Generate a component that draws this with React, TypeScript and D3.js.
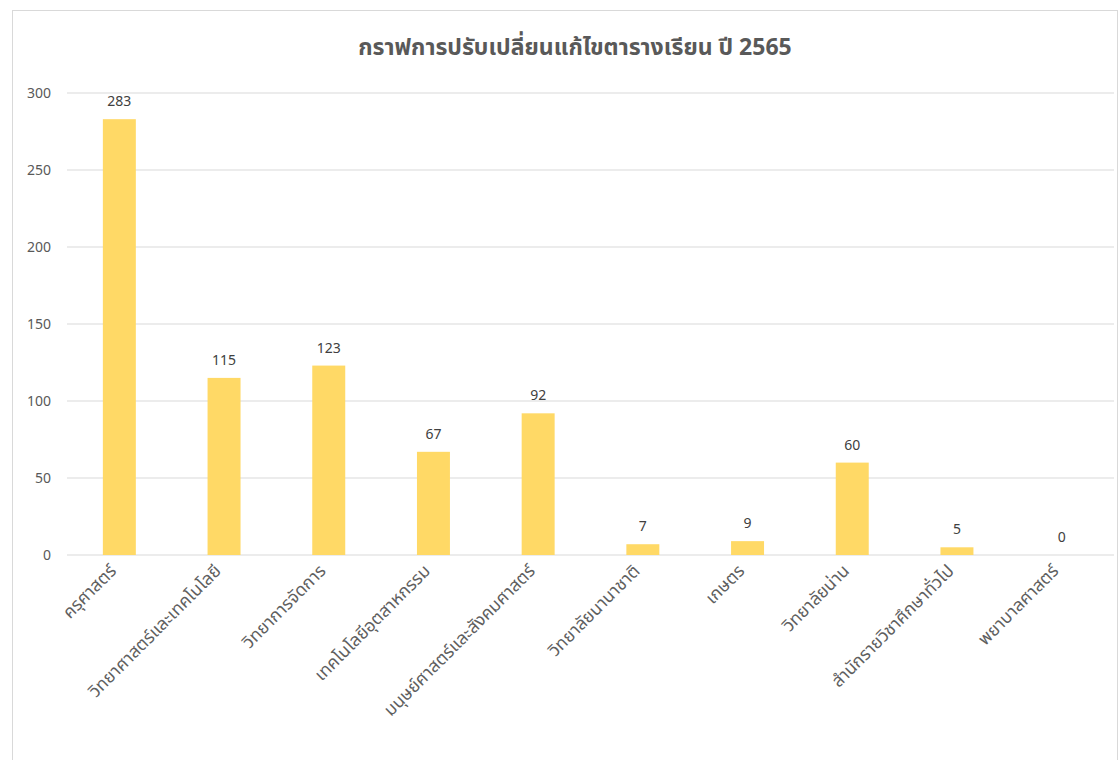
import React from "react";
import * as d3 from "d3";

const categories = [
  "ครุศาสตร์",
  "วิทยาศาสตร์และเทคโนโลยี",
  "วิทยาการจัดการ",
  "เทคโนโลยีอุตสาหกรรม",
  "มนุษย์ศาสตร์และสังคมศาสตร์",
  "วิทยาลัยนานาชาติ",
  "เกษตร",
  "วิทยาลัยน่าน",
  "สำนักรายวิชาศึกษาทั่วไป",
  "พยาบาลศาสตร์",
];
const values = [283, 115, 123, 67, 92, 7, 9, 60, 5, 0];
const yTicks = [0, 50, 100, 150, 200, 250, 300];
const title = "กราฟการปรับเปลี่ยนแก้ไขตารางเรียน ปี 2565";

const W = 1120;
const H = 760;
const margin = { left: 67, right: 6, top: 93, bottom: 205 };
const font = "'Noto Sans', 'Noto Sans Thai', Tahoma, sans-serif";

export default function App() {
  const x = d3
    .scaleBand<string>()
    .domain(categories)
    .range([margin.left, W - margin.right])
    .paddingInner(0.685)
    .paddingOuter(0.3425);
  const y = d3.scaleLinear().domain([0, 300]).range([H - margin.bottom, margin.top]);

  return (
    <svg
      width={W}
      height={H}
      style={{ position: "absolute", left: 0, top: 0, background: "#fff" }}
      fontFamily={font}
    >
      <rect x={12.5} y={10.5} width={1105} height={760} fill="#fff" stroke="#d9d9d9" />
      <text
        x={575}
        y={55}
        textAnchor="middle"
        fontSize={23}
        fontWeight="bold"
        fill="#595959"
      >
        {title}
      </text>
      {yTicks.map((t) => (
        <g key={t}>
          <line
            x1={margin.left}
            x2={W - margin.right}
            y1={y(t)}
            y2={y(t)}
            stroke="#d9d9d9"
            strokeWidth={1}
          />
          <text x={51} y={y(t)} dy="0.35em" textAnchor="end" fontSize={14} fill="#595959">
            {t}
          </text>
        </g>
      ))}
      {categories.map((c, i) => {
        const bx = x(c)!;
        const cx = bx + x.bandwidth() / 2;
        return (
          <g key={c}>
            <rect
              x={bx}
              y={y(values[i])}
              width={x.bandwidth()}
              height={y(0) - y(values[i])}
              fill="#FFD966"
            />
            <text
              x={cx}
              y={y(values[i]) - 13}
              textAnchor="middle"
              fontSize={14}
              fill="#404040"
            >
              {values[i]}
            </text>
            <text
              transform={`translate(${cx - 2},${y(0) + 17}) rotate(-45)`}
              textAnchor="end"
              fontSize={17.5}
              fill="#5f5f5f"
            >
              {c}
            </text>
          </g>
        );
      })}
    </svg>
  );
}
